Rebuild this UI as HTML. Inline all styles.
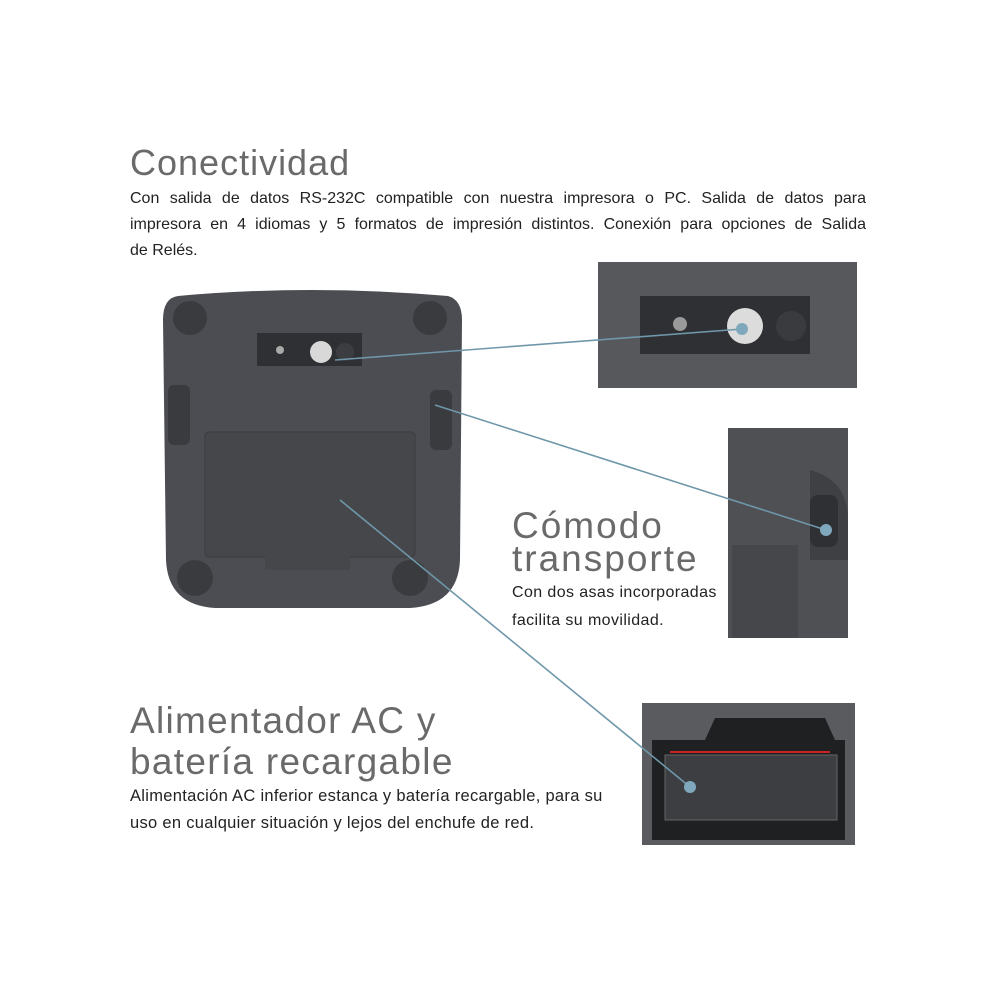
<!DOCTYPE html>
<html><head><meta charset="utf-8"><style>
body{margin:0;background:#fff;width:1000px;height:1000px;overflow:hidden;position:relative;font-family:"Liberation Sans",sans-serif}
.t{position:absolute;color:#6a6a6a;letter-spacing:1px}
.p{position:absolute;color:#222;font-size:16px;line-height:26px}
.j{text-align:justify;text-align-last:justify}
</style></head><body>
<div class="t" style="left:130px;top:142px;font-size:36px">Conectividad</div>
<div class="p" style="left:130px;top:186px;width:736px">
<div class="j">Con salida de datos RS-232C compatible con nuestra impresora o PC. Salida de datos para</div>
<div class="j">impresora en 4 idiomas y 5 formatos de impresión distintos. Conexión para opciones de Salida</div>
<div>de Relés.</div></div>
<div class="t" style="left:512px;top:509px;font-size:37px;line-height:33px;letter-spacing:2px">Cómodo<br>transporte</div>
<div class="p" style="left:512px;top:579px;font-size:16px;line-height:28px;letter-spacing:0.4px">Con dos asas incorporadas<br>facilita su movilidad.</div>
<div class="t" style="left:130px;top:700px;font-size:37px;line-height:41px;letter-spacing:1.3px">Alimentador AC y<br>batería recargable</div>
<div class="p" style="left:130px;top:783px;font-size:16.5px;line-height:27px;letter-spacing:0.3px">Alimentación AC inferior estanca y batería recargable, para su<br>uso en cualquier situación y lejos del enchufe de red.</div>
<svg width="1000" height="1000" style="position:absolute;left:0;top:0">
<path d="M178 296 Q310 284 448 296 Q462 300 462 320 L460 560 Q458 605 410 608 L215 608 Q168 605 166 560 L163 320 Q163 298 178 296Z" fill="#4b4d52"/>
<rect x="205" y="432" width="210" height="125" rx="4" fill="#45474b" stroke="#3a3b3e"/>
<rect x="265" y="545" width="85" height="25" fill="#45474b"/>
<rect x="257" y="333" width="105" height="33" fill="#2f3033"/>
<circle cx="321" cy="352" r="11" fill="#d8d8d8"/>
<circle cx="345" cy="352" r="9" fill="#3c3d40"/>
<circle cx="280" cy="350" r="4" fill="#aaa"/>
<rect x="168" y="385" width="22" height="60" rx="6" fill="#3a3b3e"/>
<rect x="430" y="390" width="22" height="60" rx="6" fill="#3a3b3e"/>
<circle cx="190" cy="318" r="17" fill="#3a3b3e"/><circle cx="430" cy="318" r="17" fill="#3a3b3e"/>
<circle cx="195" cy="578" r="18" fill="#3a3b3e"/><circle cx="410" cy="578" r="18" fill="#3a3b3e"/>
<rect x="598" y="262" width="259" height="126" fill="#56585c"/>
<rect x="640" y="296" width="170" height="58" fill="#2f3033"/>
<circle cx="745" cy="326" r="18" fill="#dcdcdc"/>
<circle cx="791" cy="326" r="15" fill="#3a3b3e"/>
<circle cx="680" cy="324" r="7" fill="#999"/>
<rect x="728" y="428" width="120" height="210" fill="#4e5054"/>
<path d="M810 470 Q848 480 848 520 L848 560 L810 560Z" fill="#3f4044"/>
<rect x="810" y="495" width="28" height="52" rx="8" fill="#2f3033"/>
<rect x="732" y="545" width="66" height="93" fill="#45474b"/>
<rect x="642" y="703" width="213" height="142" fill="#5a5b5e"/>
<path d="M652 740 L705 740 L715 718 L825 718 L835 740 L845 740 L845 840 L652 840Z" fill="#1f2022"/>
<rect x="665" y="755" width="172" height="65" fill="#3c3e42" stroke="#666"/>
<line x1="670" y1="752" x2="830" y2="752" stroke="#c22" stroke-width="2"/>
<g stroke="#6f97aa" stroke-width="1.6">
<line x1="335" y1="360" x2="742" y2="329"/>
<line x1="435" y1="405" x2="826" y2="530"/>
<line x1="340" y1="500" x2="690" y2="787"/>
</g>
<circle cx="742" cy="329" r="6" fill="#7fa8bc"/>
<circle cx="826" cy="530" r="6" fill="#7fa8bc"/>
<circle cx="690" cy="787" r="6" fill="#7fa8bc"/>
</svg>
</body></html>
